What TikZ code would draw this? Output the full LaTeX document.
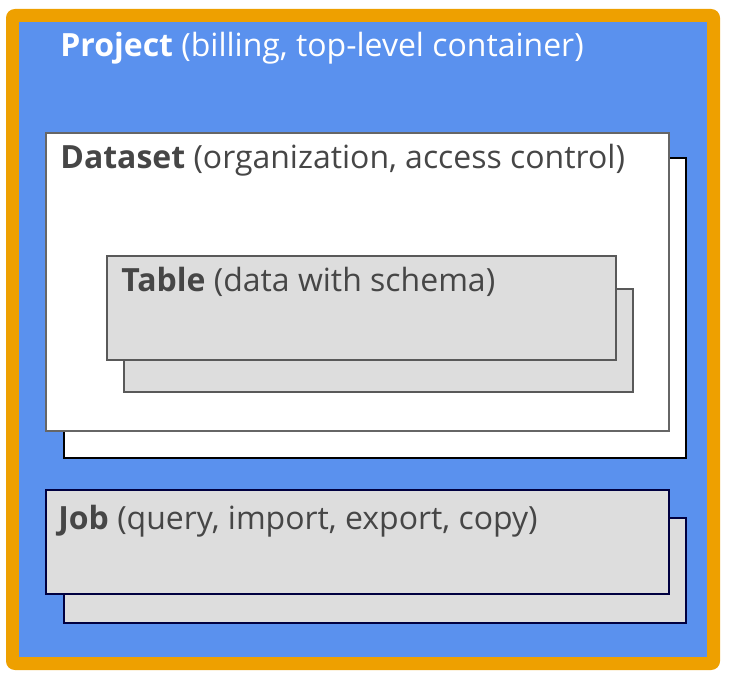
\documentclass[tikz,border=0pt]{standalone}
\usepackage{fontspec}
\setmainfont{Open Sans}
\definecolor{projorange}{RGB}{238,160,0}
\definecolor{projblue}{RGB}{90,145,238}
\definecolor{boxgray}{RGB}{221,221,221}
\definecolor{labelgray}{RGB}{70,70,70}
\tikzset{
  lbl/.style={anchor=base west, inner sep=0pt, font=\fontsize{18.2}{22}\selectfont, text=labelgray},
  frontbox/.style={draw=black!60, line width=0.8pt},
  backbox/.style={draw=black, line width=1.2pt},
  graybox/.style={draw=black!65, line width=0.6pt, fill=boxgray},
  jobbox/.style={draw=black!75!blue, line width=0.6pt, fill=boxgray}
}
\begin{document}
\begin{tikzpicture}[x=0.02cm, y=-0.02cm]
  \useasboundingbox (0,0) rectangle (733,692);
  % project frame
  \fill[projorange, rounded corners=5] (6,9) rectangle (720,670);
  \fill[projblue] (19,22) rectangle (707,657);
  \node[lbl, text=white] (project) at (60,57) {\textbf{Project} (billing, top-level container)};
  % dataset
  \draw[backbox, fill=white] (64,158) rectangle (686,458);
  \draw[frontbox, fill=white] (46,133) rectangle (669,431);
  \node[lbl] (dataset) at (60,169) {\textbf{Dataset} (organization, access control)};
  % table
  \draw[graybox] (124,289) rectangle (633,392);
  \draw[graybox] (107,256) rectangle (616,360);
  \node[lbl] (table) at (121,292) {\textbf{Table} (data with schema)};
  % job
  \draw[jobbox] (64,518) rectangle (686,623);
  \draw[jobbox] (46,490) rectangle (669,594);
  \node[lbl] (job) at (58,529) {\textbf{Job} (query, import, export, copy)};
\end{tikzpicture}
\end{document}
